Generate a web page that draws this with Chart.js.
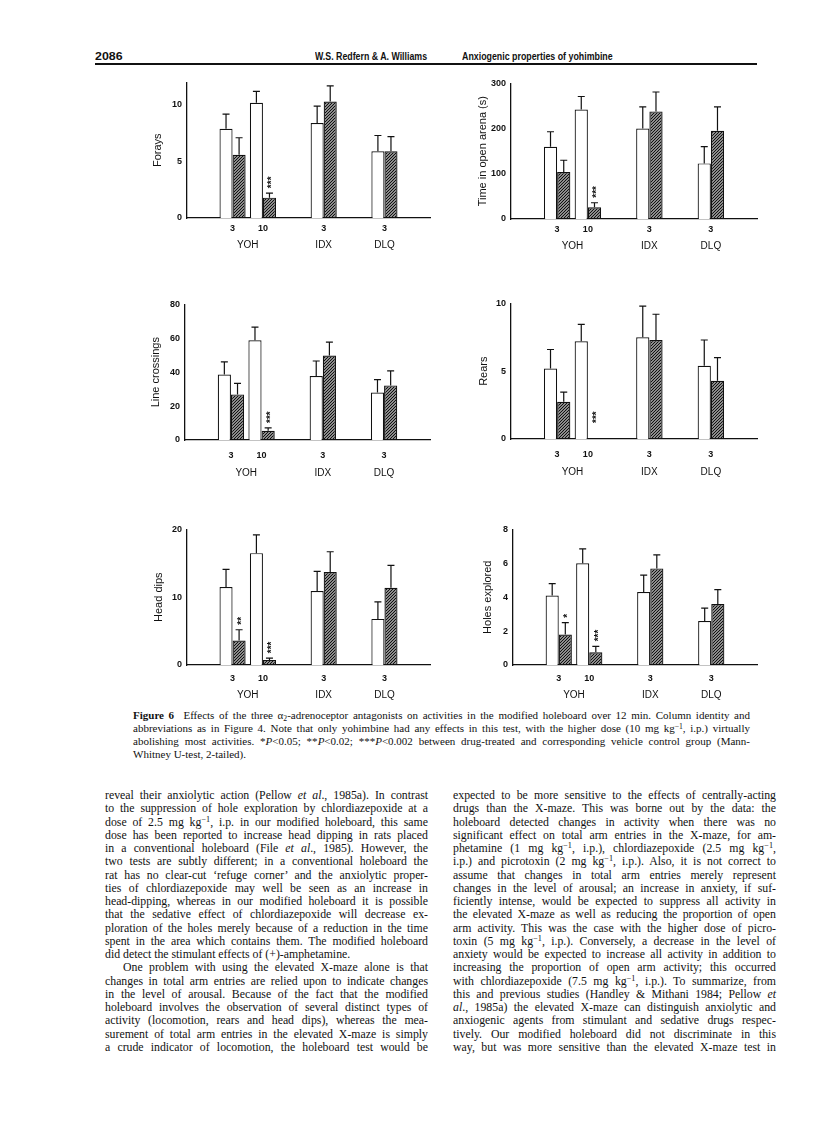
<!DOCTYPE html>
<html lang="en">
<head>
<meta charset="UTF-8">
<title>Figure 6 - Anxiogenic properties of yohimbine</title>
<script src="https://cdn.jsdelivr.net/npm/chart.js"></script>
<style>
    body { margin: 0; background: #fff; }
    .page { position: relative; width: 816px; height: 1147px; overflow: hidden; color: #111; }
    .hdr { position: absolute; top: 49px; font-family: 'Liberation Sans', Arial, sans-serif; font-weight: bold; font-size: 11px; line-height: 14px; white-space: nowrap; transform-origin: 0 50%; }
    .rule { position: absolute; left: 95px; top: 63px; width: 662px; height: 2px; background: #111; }
    canvas { position: absolute; }
    .caption { position: absolute; left: 133px; top: 709px; width: 617px; font-family: 'Liberation Serif', 'Times New Roman', serif; font-size: 11px; line-height: 13px; }
    .col { position: absolute; top: 789px; width: 323px; font-family: 'Liberation Serif', 'Times New Roman', serif; font-size: 11.8px; line-height: 13.25px; }
    .col div, .caption div { text-align: justify; text-align-last: justify; white-space: nowrap; }
    .col div.end, .caption div.end { text-align-last: left; }
    .col div.ind { text-indent: 18px; }
    sup { font-size: 70%; line-height: 0; vertical-align: 0.45em; }
    sub { font-size: 70%; line-height: 0; vertical-align: -0.2em; }
</style>
</head>
<body>
<div class="page">
    <div class="hdr" style="left:95px" data-w="27">2086</div>
    <div class="hdr" style="left:315px" data-w="112">W.S. Redfern &amp; A. Williams</div>
    <div class="hdr" style="left:462px" data-w="151">Anxiogenic properties of yohimbine</div>
    <div class="rule"></div>

    <canvas id="forays"></canvas>
    <canvas id="arena"></canvas>
    <canvas id="crossings"></canvas>
    <canvas id="rears"></canvas>
    <canvas id="headdips"></canvas>
    <canvas id="holes"></canvas>

    <div class="caption">
        <div><b>Figure 6</b>&nbsp; Effects of the three α<sub>2</sub>-adrenoceptor antagonists on activities in the modified holeboard over 12 min. Column identity and</div>
        <div>abbreviations as in Figure 4. Note that only yohimbine had any effects in this test, with the higher dose (10 mg kg<sup>−1</sup>, i.p.) virtually</div>
        <div>abolishing most activities. *<i>P</i>&lt;0.05; **<i>P</i>&lt;0.02; ***<i>P</i>&lt;0.002 between drug-treated and corresponding vehicle control group (Mann-</div>
        <div class="end">Whitney U-test, 2-tailed).</div>
    </div>

    <div class="col" style="left:105px">
        <div>reveal their anxiolytic action (Pellow <i>et al</i>., 1985a). In contrast</div>
        <div>to the suppression of hole exploration by chlordiazepoxide at a</div>
        <div>dose of 2.5 mg kg<sup>−1</sup>, i.p. in our modified holeboard, this same</div>
        <div>dose has been reported to increase head dipping in rats placed</div>
        <div>in a conventional holeboard (File <i>et al</i>., 1985). However, the</div>
        <div>two tests are subtly different; in a conventional holeboard the</div>
        <div>rat has no clear-cut ‘refuge corner’ and the anxiolytic proper-</div>
        <div>ties of chlordiazepoxide may well be seen as an increase in</div>
        <div>head-dipping, whereas in our modified holeboard it is possible</div>
        <div>that the sedative effect of chlordiazepoxide will decrease ex-</div>
        <div>ploration of the holes merely because of a reduction in the time</div>
        <div>spent in the area which contains them. The modified holeboard</div>
        <div class="end">did detect the stimulant effects of (+)-amphetamine.</div>
        <div class="ind">One problem with using the elevated X-maze alone is that</div>
        <div>changes in total arm entries are relied upon to indicate changes</div>
        <div>in the level of arousal. Because of the fact that the modified</div>
        <div>holeboard involves the observation of several distinct types of</div>
        <div>activity (locomotion, rears and head dips), whereas the mea-</div>
        <div>surement of total arm entries in the elevated X-maze is simply</div>
        <div>a crude indicator of locomotion, the holeboard test would be</div>
    </div>

    <div class="col" style="left:453px">
        <div>expected to be more sensitive to the effects of centrally-acting</div>
        <div>drugs than the X-maze. This was borne out by the data: the</div>
        <div>holeboard detected changes in activity when there was no</div>
        <div>significant effect on total arm entries in the X-maze, for am-</div>
        <div>phetamine (1 mg kg<sup>−1</sup>, i.p.), chlordiazepoxide (2.5 mg kg<sup>−1</sup>,</div>
        <div>i.p.) and picrotoxin (2 mg kg<sup>−1</sup>, i.p.). Also, it is not correct to</div>
        <div>assume that changes in total arm entries merely represent</div>
        <div>changes in the level of arousal; an increase in anxiety, if suf-</div>
        <div>ficiently intense, would be expected to suppress all activity in</div>
        <div>the elevated X-maze as well as reducing the proportion of open</div>
        <div>arm activity. This was the case with the higher dose of picro-</div>
        <div>toxin (5 mg kg<sup>−1</sup>, i.p.). Conversely, a decrease in the level of</div>
        <div>anxiety would be expected to increase all activity in addition to</div>
        <div>increasing the proportion of open arm activity; this occurred</div>
        <div>with chlordiazepoxide (7.5 mg kg<sup>−1</sup>, i.p.). To summarize, from</div>
        <div>this and previous studies (Handley &amp; Mithani 1984; Pellow <i>et</i></div>
        <div><i>al</i>., 1985a) the elevated X-maze can distinguish anxiolytic and</div>
        <div>anxiogenic agents from stimulant and sedative drugs respec-</div>
        <div>tively. Our modified holeboard did not discriminate in this</div>
        <div>way, but was more sensitive than the elevated X-maze test in</div>
    </div>
</div>

<script>
    // squeeze the running head to the condensed width of the original
    document.querySelectorAll('.hdr').forEach(el => {
        const k = Number(el.dataset.w) / el.offsetWidth;
        el.style.transform = 'scaleX(' + k.toFixed(3) + ')';
    });

    // x layout: spacer slots keep the uneven gaps between YOH, IDX and DLQ
    const doseLabels = ['', '3', '10', '', '3', '', '3', ''];
    const barSlots = [1, 2, 4, 6];
    const groupNames = ['YOH', 'IDX', 'DLQ'];
    const groupSlots = [[1, 2], [4], [6]];

    // values in order YOH 3, YOH 10, IDX 3, DLQ 3
    const foraysVehicle = [7.9, 10.2, 8.4, 5.9];
    const foraysVehicleSem = [1.3, 1.0, 1.5, 1.4];
    const foraysDrug = [5.6, 1.8, 10.3, 5.9];
    const foraysDrugSem = [1.5, 0.4, 1.4, 1.3];
    const foraysStars = ['', '***', '', ''];

    const arenaVehicle = [160, 242, 200, 123];
    const arenaVehicleSem = [33, 29, 48, 37];
    const arenaDrug = [104, 26, 238, 195];
    const arenaDrugSem = [26, 10, 43, 53];
    const arenaStars = ['', '***', '', ''];

    const crossingsVehicle = [38.6, 58.8, 37.8, 28.0];
    const crossingsVehicleSem = [7.5, 7.8, 8.8, 7.6];
    const crossingsDrug = [26.9, 5.5, 49.8, 32.2];
    const crossingsDrugSem = [6.5, 1.6, 8.0, 8.6];
    const crossingsStars = ['', '***', '', ''];

    const rearsVehicle = [5.2, 7.2, 7.5, 5.4];
    const rearsVehicleSem = [1.4, 1.25, 2.3, 1.9];
    const rearsDrug = [2.75, 0, 7.3, 4.3];
    const rearsDrugSem = [0.7, null, 1.9, 1.7];
    const rearsStars = ['', '***', '', ''];

    const headDipsVehicle = [11.5, 16.5, 10.9, 6.8];
    const headDipsVehicleSem = [2.6, 2.7, 2.9, 2.5];
    const headDipsDrug = [3.6, 0.75, 13.7, 11.4];
    const headDipsDrugSem = [1.6, 0.25, 3.0, 3.3];
    const headDipsStars = ['**', '***', '', ''];

    const holesVehicle = [4.1, 6.0, 4.3, 2.6];
    const holesVehicleSem = [0.7, 0.85, 1.0, 0.75];
    const holesDrug = [1.8, 0.75, 5.7, 3.6];
    const holesDrugSem = [0.7, 0.35, 0.8, 0.85];
    const holesStars = ['*', '***', '', ''];

    const FONT = "'Liberation Sans', Arial, sans-serif";
    const INK = '#111';

    function slotted(values) {
        const out = doseLabels.map(() => null);
        barSlots.forEach((s, i) => { out[s] = values[i]; });
        return out;
    }

    function makeHatch() {
        const tile = document.createElement('canvas');
        tile.width = 3; tile.height = 3;
        const g = tile.getContext('2d');
        g.strokeStyle = INK;
        g.lineWidth = 1.4;
        g.beginPath();
        g.moveTo(-1, 4); g.lineTo(4, -1);
        g.moveTo(-1, 1); g.lineTo(1, -1);
        g.moveTo(2, 4); g.lineTo(4, 2);
        g.stroke();
        return g.createPattern(tile, 'repeat');
    }
    const hatch = makeHatch();

    // error bars (upward only), significance stars and the drug group names
    function decorations(sems, stars, groupPad) {
        return {
            id: 'decor',
            afterDatasetsDraw(chart) {
                const ctx = chart.ctx;
                const yScale = chart.scales.y;
                const xScale = chart.scales.x;
                ctx.save();
                ctx.strokeStyle = INK;
                ctx.fillStyle = INK;
                ctx.lineWidth = 1.2;
                chart.data.datasets.forEach((ds, di) => {
                    const meta = chart.getDatasetMeta(di);
                    barSlots.forEach((slot, i) => {
                        const el = meta.data[slot];
                        const v = ds.data[slot];
                        const sem = sems[di][i];
                        let top = el.y;
                        if (sem != null) {
                            top = yScale.getPixelForValue(v + sem);
                            ctx.beginPath();
                            ctx.moveTo(el.x, el.y);
                            ctx.lineTo(el.x, top);
                            ctx.moveTo(el.x - 3.5, top);
                            ctx.lineTo(el.x + 3.5, top);
                            ctx.stroke();
                        }
                        if (di === 1 && stars[i]) {
                            const y0 = sem != null ? top - 5 : yScale.getPixelForValue(0) - 16;
                            ctx.save();
                            ctx.translate(el.x + 3, y0);
                            ctx.rotate(-Math.PI / 2);
                            ctx.font = 'bold 10px ' + FONT;
                            ctx.textAlign = 'left';
                            ctx.textBaseline = 'middle';
                            ctx.fillText(stars[i], 0, 0);
                            ctx.restore();
                        }
                    });
                });
                ctx.font = '10px ' + FONT;
                ctx.textAlign = 'center';
                ctx.textBaseline = 'middle';
                groupNames.forEach((name, gi) => {
                    const xs = groupSlots[gi].map(s => xScale.getPixelForValue(s));
                    const x = xs.reduce((a, b) => a + b, 0) / xs.length;
                    ctx.fillText(name, x, chart.chartArea.bottom + groupPad);
                });
                ctx.restore();
            }
        };
    }

    function makePanel(id, box, p) {
        const canvas = document.getElementById(id);
        const width = box.right + 10 - box.left;
        const height = box.bottom - box.top + 10 + 42;
        canvas.width = width;
        canvas.height = height;
        canvas.style.left = box.left + 'px';
        canvas.style.top = (box.top - 10) + 'px';
        canvas.style.width = width + 'px';
        canvas.style.height = height + 'px';

        new Chart(canvas.getContext('2d'), {
            type: 'bar',
            data: {
                labels: doseLabels,
                datasets: [{
                    label: 'Vehicle',
                    data: slotted(p.vehicle),
                    backgroundColor: '#fff',
                    borderColor: INK,
                    borderWidth: 1.2
                }, {
                    label: 'Drug',
                    data: slotted(p.drug),
                    backgroundColor: hatch,
                    borderColor: INK,
                    borderWidth: 1.2
                }]
            },
            options: {
                responsive: false,
                animation: false,
                devicePixelRatio: 1,
                datasets: { bar: { categoryPercentage: 0.86, barPercentage: 1.0 } },
                layout: { padding: { top: 10, right: 10, left: 0, bottom: 0 } },
                plugins: { legend: { display: false }, tooltip: { enabled: false } },
                scales: {
                    x: {
                        grid: { display: false, drawTicks: false },
                        border: { display: true, color: INK, width: 1.3 },
                        ticks: {
                            autoSkip: false, maxRotation: 0, padding: p.tickPad,
                            color: INK, font: { family: FONT, size: 9, weight: 'bold' }
                        },
                        afterFit: s => { s.height = 42; }
                    },
                    y: {
                        min: 0,
                        max: p.max,
                        grid: { display: false, drawTicks: false },
                        border: { display: true, color: INK, width: 1.3 },
                        afterBuildTicks: s => { s.ticks = s.ticks.filter(t => t.value % p.step === 0); },
                        ticks: {
                            stepSize: p.step, padding: 5,
                            color: INK, font: { family: FONT, size: 9, weight: 'bold' }
                        },
                        title: {
                            display: true, text: p.title, color: INK,
                            padding: { top: 4, bottom: 4 },
                            font: { family: FONT, size: 11 }
                        },
                        afterFit: s => { s.width = box.axis - box.left; }
                    }
                }
            },
            plugins: [decorations([p.vehicleSem, p.drugSem], p.stars, p.groupPad)]
        });
    }

    makePanel('forays', { left: 147, axis: 187, right: 430, top: 82, bottom: 218 }, {
        title: 'Forays', max: 12, step: 5, tickPad: 5, groupPad: 27,
        vehicle: foraysVehicle, vehicleSem: foraysVehicleSem,
        drug: foraysDrug, drugSem: foraysDrugSem, stars: foraysStars
    });
    makePanel('arena', { left: 472, axis: 511, right: 757, top: 83, bottom: 219 }, {
        title: 'Time in open arena (s)', max: 300, step: 100, tickPad: 5, groupPad: 27,
        vehicle: arenaVehicle, vehicleSem: arenaVehicleSem,
        drug: arenaDrug, drugSem: arenaDrugSem, stars: arenaStars
    });
    makePanel('crossings', { left: 145, axis: 185, right: 430, top: 304, bottom: 440 }, {
        title: 'Line crossings', max: 80, step: 20, tickPad: 10, groupPad: 33,
        vehicle: crossingsVehicle, vehicleSem: crossingsVehicleSem,
        drug: crossingsDrug, drugSem: crossingsDrugSem, stars: crossingsStars
    });
    makePanel('rears', { left: 473, axis: 511, right: 757, top: 303, bottom: 439 }, {
        title: 'Rears', max: 10, step: 5, tickPad: 10, groupPad: 33,
        vehicle: rearsVehicle, vehicleSem: rearsVehicleSem,
        drug: rearsDrug, drugSem: rearsDrugSem, stars: rearsStars
    });
    makePanel('headdips', { left: 148, axis: 187, right: 430, top: 529, bottom: 665 }, {
        title: 'Head dips', max: 20, step: 10, tickPad: 8, groupPad: 30,
        vehicle: headDipsVehicle, vehicleSem: headDipsVehicleSem,
        drug: headDipsDrug, drugSem: headDipsDrugSem, stars: headDipsStars
    });
    makePanel('holes', { left: 477, axis: 513, right: 757, top: 529, bottom: 665 }, {
        title: 'Holes explored', max: 8, step: 2, tickPad: 8, groupPad: 30,
        vehicle: holesVehicle, vehicleSem: holesVehicleSem,
        drug: holesDrug, drugSem: holesDrugSem, stars: holesStars
    });
</script>
</body>
</html>
